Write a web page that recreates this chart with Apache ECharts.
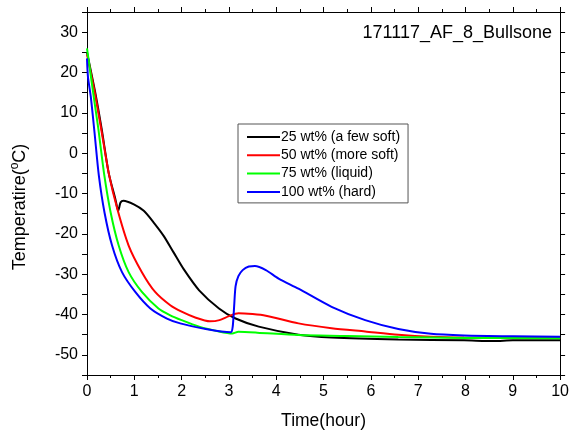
<!DOCTYPE html>
<html>
<head>
<meta charset="utf-8">
<script src="https://cdn.jsdelivr.net/npm/echarts@6/dist/echarts.min.js"></script>
<style>html,body{margin:0;padding:0;background:#fff}#c{width:572px;height:435px}</style>
</head>
<body>
<div id="c"></div>
<script>
var seriesNames = ['25 wt% (a few soft)', '50 wt% (more soft)', '75 wt% (liquid)', '100 wt% (hard)'];
var seriesColors = ['#000000', '#ff0000', '#00ff00', '#0000ff'];
var xTicks = [0,1,2,3,4,5,6,7,8,9,10];
var yTickLabels = [-50,-40,-30,-20,-10,0,10,20,30];

var black = [[0,25],[0.17,15.3],[0.31,6],[0.46,-5],[0.6,-11.4],[0.66,-14.3],[0.68,-13.5],[0.71,-12.2],[0.77,-11.8],[0.99,-12.7],[1.2,-14.3],[1.41,-17.2],[1.62,-20.5],[1.83,-24.6],[2.04,-28.7],[2.37,-34],[2.79,-38.5],[3.14,-41],[3.63,-43],[4.47,-45],[5.17,-45.7],[6.58,-46.2],[7.97,-46.4],[8.6,-46.6],[9,-46.4],[10,-46.4]];
var red = [[0,24.5],[0.16,15.3],[0.3,6],[0.46,-5],[0.64,-13.8],[0.88,-22.9],[1.16,-29.5],[1.44,-34.4],[1.76,-37.7],[2.0,-39.3],[2.3,-40.8],[2.6,-41.7],[2.8,-41.4],[3.0,-40.4],[3.2,-39.7],[3.5,-39.9],[3.78,-40.3],[4.47,-42.2],[5.17,-43.4],[5.88,-44.2],[6.58,-45],[7.27,-45.5],[7.97,-45.7],[10,-45.8]];
var green = [[0,26],[0.13,15],[0.24,6],[0.36,-5],[0.5,-14.7],[0.67,-22.9],[0.88,-29.5],[1.16,-34.4],[1.51,-38.5],[1.76,-40.2],[2.0,-41.4],[2.37,-43],[2.79,-44.2],[3.07,-44.7],[3.2,-44.3],[3.6,-44.5],[4.47,-45.1],[5.5,-45.3],[6.58,-45.6],[8,-45.8],[10,-45.9]];
var blue = [[0,23.5],[0.02,19],[0.08,14],[0.16,5],[0.25,-5.5],[0.37,-14.7],[0.53,-22.9],[0.74,-29.5],[1.02,-34.4],[1.34,-38.5],[1.69,-41],[1.97,-42.2],[2.51,-43.6],[3.04,-44.4],[3.08,-43],[3.11,-38],[3.14,-33],[3.2,-30.5],[3.29,-29],[3.42,-28.1],[3.55,-28],[3.78,-29],[4.05,-31.1],[4.47,-33.6],[5.17,-38.1],[5.88,-41.4],[6.58,-43.6],[7.27,-44.8],[7.97,-45.2],[9,-45.4],[10,-45.5]];

var seriesData = [black, red, green, blue];
var FONT = "'Liberation Sans', Arial, sans-serif";

var chart = echarts.init(document.getElementById('c'), null, {renderer: 'canvas'});
var axisCommon = {
  axisLine: {show: true, onZero: false, lineStyle: {color: '#000', width: 1}},
  axisTick: {show: true, inside: false, length: 5, lineStyle: {color: '#000'}},
  minorTick: {show: false},
  splitLine: {show: false}
};
chart.setOption({
  animation: false,
  backgroundColor: '#fff',
  title: {
    text: '171117_AF_8_Bullsone',
    right: 15, top: 19,
    textStyle: {fontFamily: FONT, fontSize: 18, fontWeight: 'normal', color: '#000'}
  },
  legend: {
    orient: 'vertical',
    left: 238, top: 124,
    padding: [5, 8, 3, 9],
    borderColor: '#555', borderWidth: 1,
    backgroundColor: '#fff',
    itemWidth: 33, itemHeight: 2, itemGap: 2.3,
    icon: 'rect',
    data: seriesNames,
    textStyle: {fontFamily: FONT, fontSize: 14, color: '#000', lineHeight: 16, padding: [0,0,0,-4]}
  },
  grid: {left: 87, right: 9, top: 12, bottom: 58, containLabel: false},
  graphic: [{
    type: 'text',
    x: 19, y: 207,
    rotation: Math.PI / 2,
    style: {
      text: '{n|Temperatire(}{s|o}{n|C)}',
      align: 'center', verticalAlign: 'middle',
      fill: '#000',
      rich: {
        n: {fontFamily: FONT, fontSize: 18, fill: '#000', lineHeight: 20, verticalAlign: 'bottom'},
        s: {fontFamily: FONT, fontSize: 12, fill: '#000', lineHeight: 20, verticalAlign: 'top', padding: [0,0,6,0]}
      }
    }
  }],
  xAxis: [
    Object.assign({}, axisCommon, {
      type: 'value', min: 0, max: 10, interval: 1, position: 'bottom',
      minorTick: {show: true, splitNumber: 2, length: 3, lineStyle: {color: '#000'}},
      axisLabel: {fontFamily: FONT, fontSize: 16, color: '#000', margin: 9,
        formatter: function (v) { return xTicks.indexOf(v) >= 0 ? String(v) : ''; }},
      name: 'Time(hour)', nameLocation: 'middle', nameGap: 37,
      nameTextStyle: {fontFamily: FONT, fontSize: 17.5, color: '#000'}
    }),
    Object.assign({}, axisCommon, {
      type: 'value', min: 0, max: 10, interval: 1, position: 'top',
      minorTick: {show: true, splitNumber: 2, length: 3, lineStyle: {color: '#000'}},
      axisLabel: {show: false}
    })
  ],
  yAxis: [
    Object.assign({}, axisCommon, {
      type: 'value', min: -55, max: 35, interval: 5, position: 'left',
      axisLabel: {fontFamily: FONT, fontSize: 16, color: '#000', margin: 9,
        formatter: function (v) { return yTickLabels.indexOf(v) >= 0 ? String(v) : ''; }}
    }),
    Object.assign({}, axisCommon, {
      type: 'value', min: -55, max: 35, interval: 5, position: 'right',
      axisLabel: {show: false}
    })
  ],
  series: seriesNames.map(function (name, i) {
    return {
      name: name, type: 'line', data: seriesData[i],
      xAxisIndex: 0, yAxisIndex: 0,
      showSymbol: false, symbol: 'none', smooth: 0.25,
      lineStyle: {color: seriesColors[i], width: 2},
      itemStyle: {color: seriesColors[i]},
      z: 2 + i
    };
  })
});
</script>
</body>
</html>
